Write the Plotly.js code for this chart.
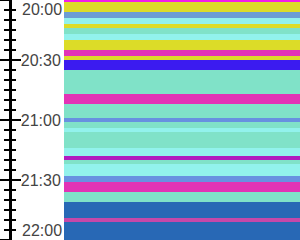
<!DOCTYPE html>
<html><head><meta charset="utf-8">
<script src="https://cdn.plot.ly/plotly-3.0.1.min.js"></script>
<style>html,body{margin:0;padding:0;background:#fff}#chart{width:300px;height:240px}</style>
</head><body><div id="chart"></div>
<script>
const startTimes = ["20:00","20:01","20:06","20:09","20:12","20:14","20:17","20:20","20:25","20:28",
  "20:30","20:35","20:47","20:52","20:59","21:01","21:04","21:06","21:14","21:18",
  "21:20","21:22","21:28","21:31","21:36","21:41","21:49","21:51"];
const endTimes = ["20:01","20:06","20:09","20:12","20:14","20:17","20:20","20:25","20:28","20:30",
  "20:35","20:47","20:52","20:59","21:01","21:04","21:06","21:14","21:18","21:20",
  "21:22","21:28","21:31","21:36","21:41","21:49","21:51","22:00"];
const bandColors = ["#f21ee8","#dcdc28","#6b9dd3","#92f2ec","#dcdc28","#80e2c8","#92f2ec","#dcdc28","#e233b5","#dcdc28",
  "#3b1bf0","#80e2c8","#e233b5","#80e2c8","#6891e0","#80e2c8","#92f2ec","#80e2c8","#92f2ec","#b01cc0",
  "#80e2c8","#92f2ec","#6891e0","#e233b5","#80e2c8","#2868b5","#c648a9","#2868b5"];
const tickTimes = ["20:00","20:30","21:00","21:30","22:00"];

function toMin(t){ const p = t.split(":").map(Number); return (p[0]-20)*60 + p[1]; }
const base = startTimes.map(toMin);
const dur = endTimes.map((t,i)=> toMin(t) - base[i]);
const tickMins = tickTimes.map(toMin);
const yMin = tickMins[0], yMax = tickMins[tickMins.length-1];

const bars = {
  type: 'bar', orientation: 'v',
  x: base.map(()=>0.5), width: base.map(()=>1),
  base: base, y: dur,
  marker: {color: bandColors, line: {width: 0}},
  hoverinfo: 'skip', showlegend: false, xaxis: 'x', yaxis: 'y'
};
const dummy = {type:'scatter', mode:'markers', x:[null], y:[null], xaxis:'x', yaxis:'y2', showlegend:false, hoverinfo:'skip'};

const lblFont = {family: 'Liberation Sans, Arial, sans-serif', size: 16, color: '#444'};
const layout = {
  width: 300, height: 240,
  margin: {l: 10, r: 0, t: 0, b: 0},
  paper_bgcolor: '#fff', plot_bgcolor: '#fff',
  bargap: 0,
  xaxis: {domain: [54/290, 1], range: [0, 1], visible: false, fixedrange: true},
  yaxis: {
    anchor: 'free', position: 0, range: [yMax, yMin],
    showline: true, linewidth: 3, linecolor: '#000',
    tickmode: 'linear', tick0: 0, dtick: 30,
    ticks: 'outside', ticklen: 10, tickwidth: 2, tickcolor: '#000',
    showticklabels: false, showgrid: false, zeroline: false,
    minor: {tickmode: 'linear', tick0: 0, dtick: 5, ticks: 'outside', ticklen: 5, tickwidth: 2, tickcolor: '#000', showgrid: false}
  },
  yaxis2: {
    overlaying: 'y', anchor: 'free', position: 0, side: 'left', range: [yMax, yMin],
    showline: false,
    tickmode: 'array', tickvals: tickMins.slice(1, -1), ticktext: tickTimes.slice(1, -1),
    ticks: 'inside', ticklen: 10, tickwidth: 2, tickcolor: '#000',
    ticklabelposition: 'inside', tickfont: lblFont,
    showgrid: false, zeroline: false,
    minor: {tickmode: 'linear', tick0: 0, dtick: 5, ticks: 'inside', ticklen: 5, tickwidth: 2, tickcolor: '#000', showgrid: false}
  },
  annotations: [
    {text: tickTimes[0], xref: 'paper', x: 0, xanchor: 'left', xshift: 10, yref: 'y', y: yMin, yanchor: 'top', yshift: 1, showarrow: false, font: lblFont},
    {text: tickTimes[tickTimes.length-1], xref: 'paper', x: 0, xanchor: 'left', xshift: 10, yref: 'y', y: yMax, yanchor: 'bottom', yshift: -1, showarrow: false, font: lblFont}
  ]
};
Plotly.newPlot('chart', [bars, dummy], layout, {staticPlot: true, displayModeBar: false});
</script></body></html>
